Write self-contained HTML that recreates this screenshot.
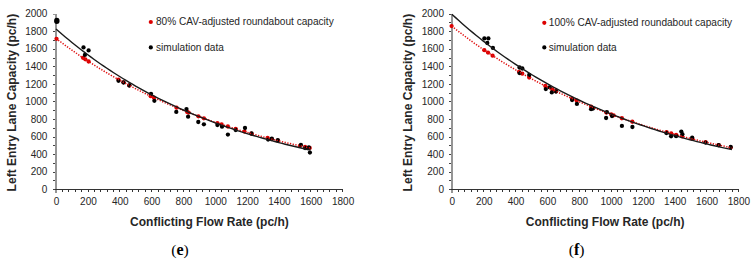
<!DOCTYPE html>
<html><head><meta charset="utf-8"><style>
html,body{margin:0;padding:0;background:#fff;}
svg{display:block;}
text{font-family:"Liberation Sans",sans-serif;}
</style></head><body>
<svg width="754" height="262" viewBox="0 0 754 262">
<rect width="754" height="262" fill="#fff"/>
<text x="0" y="0" transform="translate(16,102.6) rotate(-90)" text-anchor="middle" font-weight="bold" font-size="12.07" fill="#262626">Left Entry Lane Capacity (pc/h)</text>
<text x="47.4" y="192.8" text-anchor="end" font-size="10" fill="#262626">0</text>
<text x="47.4" y="175.25" text-anchor="end" font-size="10" fill="#262626">200</text>
<text x="47.4" y="157.7" text-anchor="end" font-size="10" fill="#262626">400</text>
<text x="47.4" y="140.15" text-anchor="end" font-size="10" fill="#262626">600</text>
<text x="47.4" y="122.6" text-anchor="end" font-size="10" fill="#262626">800</text>
<text x="47.4" y="105.05" text-anchor="end" font-size="10" fill="#262626">1000</text>
<text x="47.4" y="87.5" text-anchor="end" font-size="10" fill="#262626">1200</text>
<text x="47.4" y="69.95" text-anchor="end" font-size="10" fill="#262626">1400</text>
<text x="47.4" y="52.4" text-anchor="end" font-size="10" fill="#262626">1600</text>
<text x="47.4" y="34.85" text-anchor="end" font-size="10" fill="#262626">1800</text>
<text x="47.4" y="17.3" text-anchor="end" font-size="10" fill="#262626">2000</text>
<text x="56.6" y="205" text-anchor="middle" font-size="10" fill="#262626">0</text>
<text x="88.43" y="205" text-anchor="middle" font-size="10" fill="#262626">200</text>
<text x="120.27" y="205" text-anchor="middle" font-size="10" fill="#262626">400</text>
<text x="152.1" y="205" text-anchor="middle" font-size="10" fill="#262626">600</text>
<text x="183.93" y="205" text-anchor="middle" font-size="10" fill="#262626">800</text>
<text x="215.77" y="205" text-anchor="middle" font-size="10" fill="#262626">1000</text>
<text x="247.6" y="205" text-anchor="middle" font-size="10" fill="#262626">1200</text>
<text x="279.43" y="205" text-anchor="middle" font-size="10" fill="#262626">1400</text>
<text x="311.27" y="205" text-anchor="middle" font-size="10" fill="#262626">1600</text>
<text x="343.1" y="205" text-anchor="middle" font-size="10" fill="#262626">1800</text>
<text x="209.4" y="225.7" text-anchor="middle" font-weight="bold" font-size="12" fill="#262626">Conflicting Flow Rate (pc/h)</text>
<g shape-rendering="crispEdges">
<rect x="55.2" y="14" width="1.9" height="178.6" fill="#959595"/>
<rect x="53.2" y="189" width="289.9" height="1.2" fill="#333"/>
<rect x="53.2" y="189.2" width="2" height="1" fill="#444"/>
<rect x="53.2" y="180.42" width="2" height="1" fill="#444"/>
<rect x="53.2" y="171.65" width="2" height="1" fill="#444"/>
<rect x="53.2" y="162.88" width="2" height="1" fill="#444"/>
<rect x="53.2" y="154.1" width="2" height="1" fill="#444"/>
<rect x="53.2" y="145.32" width="2" height="1" fill="#444"/>
<rect x="53.2" y="136.55" width="2" height="1" fill="#444"/>
<rect x="53.2" y="127.77" width="2" height="1" fill="#444"/>
<rect x="53.2" y="119" width="2" height="1" fill="#444"/>
<rect x="53.2" y="110.23" width="2" height="1" fill="#444"/>
<rect x="53.2" y="101.45" width="2" height="1" fill="#444"/>
<rect x="53.2" y="92.68" width="2" height="1" fill="#444"/>
<rect x="53.2" y="83.9" width="2" height="1" fill="#444"/>
<rect x="53.2" y="75.13" width="2" height="1" fill="#444"/>
<rect x="53.2" y="66.35" width="2" height="1" fill="#444"/>
<rect x="53.2" y="57.58" width="2" height="1" fill="#444"/>
<rect x="53.2" y="48.8" width="2" height="1" fill="#444"/>
<rect x="53.2" y="40.03" width="2" height="1" fill="#444"/>
<rect x="53.2" y="31.25" width="2" height="1" fill="#444"/>
<rect x="53.2" y="13.7" width="2" height="1" fill="#9a9a9a"/>
<rect x="62.07" y="189.5" width="1" height="2.5" fill="#333"/>
<rect x="68.43" y="189.5" width="1" height="2.5" fill="#333"/>
<rect x="74.8" y="189.5" width="1" height="2.5" fill="#333"/>
<rect x="81.17" y="189.5" width="1" height="2.5" fill="#333"/>
<rect x="87.53" y="189.5" width="1" height="2.5" fill="#333"/>
<rect x="93.9" y="189.5" width="1" height="2.5" fill="#333"/>
<rect x="100.27" y="189.5" width="1" height="2.5" fill="#333"/>
<rect x="106.63" y="189.5" width="1" height="2.5" fill="#333"/>
<rect x="113" y="189.5" width="1" height="2.5" fill="#333"/>
<rect x="119.37" y="189.5" width="1" height="2.5" fill="#333"/>
<rect x="125.73" y="189.5" width="1" height="2.5" fill="#333"/>
<rect x="132.1" y="189.5" width="1" height="2.5" fill="#333"/>
<rect x="138.47" y="189.5" width="1" height="2.5" fill="#333"/>
<rect x="144.83" y="189.5" width="1" height="2.5" fill="#333"/>
<rect x="151.2" y="189.5" width="1" height="2.5" fill="#333"/>
<rect x="157.57" y="189.5" width="1" height="2.5" fill="#333"/>
<rect x="163.93" y="189.5" width="1" height="2.5" fill="#333"/>
<rect x="170.3" y="189.5" width="1" height="2.5" fill="#333"/>
<rect x="176.67" y="189.5" width="1" height="2.5" fill="#333"/>
<rect x="183.03" y="189.5" width="1" height="2.5" fill="#333"/>
<rect x="189.4" y="189.5" width="1" height="2.5" fill="#333"/>
<rect x="195.77" y="189.5" width="1" height="2.5" fill="#333"/>
<rect x="202.13" y="189.5" width="1" height="2.5" fill="#333"/>
<rect x="208.5" y="189.5" width="1" height="2.5" fill="#333"/>
<rect x="214.87" y="189.5" width="1" height="2.5" fill="#333"/>
<rect x="221.23" y="189.5" width="1" height="2.5" fill="#333"/>
<rect x="227.6" y="189.5" width="1" height="2.5" fill="#333"/>
<rect x="233.97" y="189.5" width="1" height="2.5" fill="#333"/>
<rect x="240.33" y="189.5" width="1" height="2.5" fill="#333"/>
<rect x="246.7" y="189.5" width="1" height="2.5" fill="#333"/>
<rect x="253.07" y="189.5" width="1" height="2.5" fill="#333"/>
<rect x="259.43" y="189.5" width="1" height="2.5" fill="#333"/>
<rect x="265.8" y="189.5" width="1" height="2.5" fill="#333"/>
<rect x="272.17" y="189.5" width="1" height="2.5" fill="#333"/>
<rect x="278.53" y="189.5" width="1" height="2.5" fill="#333"/>
<rect x="284.9" y="189.5" width="1" height="2.5" fill="#333"/>
<rect x="291.27" y="189.5" width="1" height="2.5" fill="#333"/>
<rect x="297.63" y="189.5" width="1" height="2.5" fill="#333"/>
<rect x="304" y="189.5" width="1" height="2.5" fill="#333"/>
<rect x="310.37" y="189.5" width="1" height="2.5" fill="#333"/>
<rect x="316.73" y="189.5" width="1" height="2.5" fill="#333"/>
<rect x="323.1" y="189.5" width="1" height="2.5" fill="#333"/>
<rect x="329.47" y="189.5" width="1" height="2.5" fill="#333"/>
<rect x="335.83" y="189.5" width="1" height="2.5" fill="#333"/>
<rect x="342.2" y="189.5" width="1" height="2.5" fill="#333"/>
</g>
<circle cx="56.5" cy="38.78" r="2.15" fill="#dc0000"/>
<circle cx="83" cy="57.79" r="2.15" fill="#dc0000"/>
<circle cx="85.3" cy="59.33" r="2.15" fill="#dc0000"/>
<circle cx="88.6" cy="61.49" r="2.15" fill="#dc0000"/>
<circle cx="118.5" cy="79.56" r="2.15" fill="#dc0000"/>
<circle cx="123.5" cy="82.32" r="2.15" fill="#dc0000"/>
<circle cx="129.3" cy="85.44" r="2.15" fill="#dc0000"/>
<circle cx="150.7" cy="96.18" r="2.15" fill="#dc0000"/>
<circle cx="153.9" cy="97.69" r="2.15" fill="#dc0000"/>
<circle cx="176.5" cy="107.66" r="2.15" fill="#dc0000"/>
<circle cx="187.2" cy="112" r="2.15" fill="#dc0000"/>
<circle cx="188.6" cy="112.55" r="2.15" fill="#dc0000"/>
<circle cx="198.4" cy="116.29" r="2.15" fill="#dc0000"/>
<circle cx="203.9" cy="118.31" r="2.15" fill="#dc0000"/>
<circle cx="217.4" cy="123.04" r="2.15" fill="#dc0000"/>
<circle cx="221.6" cy="124.44" r="2.15" fill="#dc0000"/>
<circle cx="227.9" cy="126.5" r="2.15" fill="#dc0000"/>
<circle cx="235.7" cy="128.95" r="2.15" fill="#dc0000"/>
<circle cx="244.5" cy="131.6" r="2.15" fill="#dc0000"/>
<circle cx="251.5" cy="133.63" r="2.15" fill="#dc0000"/>
<circle cx="267.6" cy="138.02" r="2.15" fill="#dc0000"/>
<circle cx="271.8" cy="139.11" r="2.15" fill="#dc0000"/>
<circle cx="277.8" cy="140.63" r="2.15" fill="#dc0000"/>
<circle cx="300" cy="145.85" r="2.15" fill="#dc0000"/>
<circle cx="305.1" cy="146.97" r="2.15" fill="#dc0000"/>
<circle cx="309.7" cy="147.95" r="2.15" fill="#dc0000"/>
<ellipse cx="56.8" cy="20.9" rx="2.75" ry="3.05" fill="#000"/>
<circle cx="83.5" cy="47.4" r="2.15" fill="#000"/>
<circle cx="88.6" cy="50.4" r="2.15" fill="#000"/>
<circle cx="84.9" cy="54.9" r="2.15" fill="#000"/>
<circle cx="118.5" cy="80.8" r="2.15" fill="#000"/>
<circle cx="123.5" cy="82.5" r="2.15" fill="#000"/>
<circle cx="129.3" cy="85.5" r="2.15" fill="#000"/>
<circle cx="151" cy="93.8" r="2.15" fill="#000"/>
<circle cx="154.4" cy="100.8" r="2.15" fill="#000"/>
<circle cx="176.3" cy="111.9" r="2.15" fill="#000"/>
<circle cx="186.5" cy="109.1" r="2.15" fill="#000"/>
<circle cx="188.1" cy="116.7" r="2.15" fill="#000"/>
<circle cx="198.3" cy="122" r="2.15" fill="#000"/>
<circle cx="203.9" cy="124.3" r="2.15" fill="#000"/>
<circle cx="217.4" cy="125" r="2.15" fill="#000"/>
<circle cx="222" cy="126.7" r="2.15" fill="#000"/>
<circle cx="227.9" cy="134.6" r="2.15" fill="#000"/>
<circle cx="235.7" cy="130" r="2.15" fill="#000"/>
<circle cx="245" cy="128" r="2.15" fill="#000"/>
<circle cx="251.5" cy="133.5" r="2.15" fill="#000"/>
<circle cx="268.1" cy="139.6" r="2.15" fill="#000"/>
<circle cx="271.8" cy="138.7" r="2.15" fill="#000"/>
<circle cx="277.8" cy="140.1" r="2.15" fill="#000"/>
<circle cx="300.9" cy="145" r="2.15" fill="#000"/>
<circle cx="305.1" cy="148" r="2.15" fill="#000"/>
<circle cx="308.8" cy="147.5" r="2.15" fill="#000"/>
<circle cx="309.9" cy="152.6" r="2.15" fill="#000"/>
<path d="M56,38.39 L59.18,40.82 L62.37,43.21 L65.55,45.56 L68.73,47.88 L71.92,50.15 L75.1,52.39 L78.28,54.59 L81.47,56.76 L84.65,58.89 L87.83,60.99 L91.02,63.06 L94.2,65.09 L97.38,67.09 L100.57,69.06 L103.75,70.99 L106.93,72.9 L110.12,74.77 L113.3,76.61 L116.48,78.43 L119.67,80.21 L122.85,81.97 L126.03,83.7 L129.22,85.4 L132.4,87.07 L135.58,88.72 L138.77,90.34 L141.95,91.93 L145.13,93.5 L148.32,95.04 L151.5,96.56 L154.68,98.05 L157.87,99.52 L161.05,100.97 L164.23,102.39 L167.42,103.79 L170.6,105.17 L173.78,106.52 L176.97,107.86 L180.15,109.17 L183.33,110.46 L186.52,111.73 L189.7,112.98 L192.88,114.21 L196.07,115.42 L199.25,116.61 L202.43,117.78 L205.62,118.93 L208.8,120.07 L211.98,121.18 L215.17,122.28 L218.35,123.36 L221.53,124.42 L224.72,125.47 L227.9,126.5 L231.08,127.51 L234.27,128.51 L237.45,129.49 L240.63,130.45 L243.82,131.4 L247,132.33 L250.18,133.25 L253.37,134.16 L256.55,135.04 L259.73,135.92 L262.92,136.78 L266.1,137.63 L269.28,138.46 L272.47,139.28 L275.65,140.09 L278.83,140.88 L282.02,141.66 L285.2,142.43 L288.38,143.19 L291.57,143.93 L294.75,144.67 L297.93,145.39 L301.12,146.09 L304.3,146.79 L307.48,147.48 L310.67,148.15" fill="none" stroke="#e01010" stroke-width="1.5" stroke-dasharray="1.3 1.45"/>
<path d="M56,28.92 L59.18,31.72 L62.37,34.47 L65.55,37.17 L68.73,39.82 L71.92,42.43 L75.1,44.99 L78.28,47.51 L81.47,49.99 L84.65,52.42 L87.83,54.81 L91.02,57.15 L94.2,59.46 L97.38,61.73 L100.57,63.95 L103.75,66.14 L106.93,68.29 L110.12,70.4 L113.3,72.48 L116.48,74.52 L119.67,76.52 L122.85,78.49 L126.03,80.42 L129.22,82.32 L132.4,84.19 L135.58,86.03 L138.77,87.83 L141.95,89.6 L145.13,91.34 L148.32,93.05 L151.5,94.73 L154.68,96.39 L157.87,98.01 L161.05,99.6 L164.23,101.17 L167.42,102.71 L170.6,104.22 L173.78,105.71 L176.97,107.17 L180.15,108.6 L183.33,110.01 L186.52,111.4 L189.7,112.76 L192.88,114.1 L196.07,115.41 L199.25,116.7 L202.43,117.97 L205.62,119.22 L208.8,120.44 L211.98,121.64 L215.17,122.83 L218.35,123.99 L221.53,125.13 L224.72,126.25 L227.9,127.35 L231.08,128.44 L234.27,129.5 L237.45,130.55 L240.63,131.57 L243.82,132.58 L247,133.58 L250.18,134.55 L253.37,135.51 L256.55,136.45 L259.73,137.37 L262.92,138.28 L266.1,139.17 L269.28,140.05 L272.47,140.91 L275.65,141.76 L278.83,142.59 L282.02,143.41 L285.2,144.21 L288.38,145 L291.57,145.78 L294.75,146.54 L297.93,147.29 L301.12,148.02 L304.3,148.75 L307.48,149.46 L310.67,150.15" fill="none" stroke="#1a1a1a" stroke-width="1.4"/>
<circle cx="150.8" cy="22" r="2.1" fill="#dc0000"/>
<text x="156" y="25.4" font-size="10.1" fill="#262626">80% CAV-adjusted roundabout capacity</text>
<circle cx="150.8" cy="47.4" r="2.1" fill="#000"/>
<text x="156" y="50.8" font-size="10.1" fill="#262626">simulation data</text>
<text x="171.2" y="255.3" style="font-family:Liberation Serif,serif" font-size="16" fill="#000"><tspan font-size="15.6" dy="-0.3">(</tspan><tspan font-weight="bold" dy="0.3">e</tspan><tspan font-size="15.6" dy="-0.3">)</tspan></text>
<text x="0" y="0" transform="translate(411.8,102.6) rotate(-90)" text-anchor="middle" font-weight="bold" font-size="12.07" fill="#262626">Left Entry Lane Capacity (pc/h)</text>
<text x="444" y="192.8" text-anchor="end" font-size="10" fill="#262626">0</text>
<text x="444" y="175.25" text-anchor="end" font-size="10" fill="#262626">200</text>
<text x="444" y="157.7" text-anchor="end" font-size="10" fill="#262626">400</text>
<text x="444" y="140.15" text-anchor="end" font-size="10" fill="#262626">600</text>
<text x="444" y="122.6" text-anchor="end" font-size="10" fill="#262626">800</text>
<text x="444" y="105.05" text-anchor="end" font-size="10" fill="#262626">1000</text>
<text x="444" y="87.5" text-anchor="end" font-size="10" fill="#262626">1200</text>
<text x="444" y="69.95" text-anchor="end" font-size="10" fill="#262626">1400</text>
<text x="444" y="52.4" text-anchor="end" font-size="10" fill="#262626">1600</text>
<text x="444" y="34.85" text-anchor="end" font-size="10" fill="#262626">1800</text>
<text x="444" y="17.3" text-anchor="end" font-size="10" fill="#262626">2000</text>
<text x="452.4" y="205" text-anchor="middle" font-size="10" fill="#262626">0</text>
<text x="484.23" y="205" text-anchor="middle" font-size="10" fill="#262626">200</text>
<text x="516.07" y="205" text-anchor="middle" font-size="10" fill="#262626">400</text>
<text x="547.9" y="205" text-anchor="middle" font-size="10" fill="#262626">600</text>
<text x="579.73" y="205" text-anchor="middle" font-size="10" fill="#262626">800</text>
<text x="611.57" y="205" text-anchor="middle" font-size="10" fill="#262626">1000</text>
<text x="643.4" y="205" text-anchor="middle" font-size="10" fill="#262626">1200</text>
<text x="675.23" y="205" text-anchor="middle" font-size="10" fill="#262626">1400</text>
<text x="707.07" y="205" text-anchor="middle" font-size="10" fill="#262626">1600</text>
<text x="738.9" y="205" text-anchor="middle" font-size="10" fill="#262626">1800</text>
<text x="605.2" y="225.7" text-anchor="middle" font-weight="bold" font-size="12" fill="#262626">Conflicting Flow Rate (pc/h)</text>
<g shape-rendering="crispEdges">
<rect x="451" y="14" width="1.9" height="178.6" fill="#959595"/>
<rect x="449" y="189" width="289.9" height="1.2" fill="#333"/>
<rect x="449" y="189.2" width="2" height="1" fill="#444"/>
<rect x="449" y="180.42" width="2" height="1" fill="#444"/>
<rect x="449" y="171.65" width="2" height="1" fill="#444"/>
<rect x="449" y="162.88" width="2" height="1" fill="#444"/>
<rect x="449" y="154.1" width="2" height="1" fill="#444"/>
<rect x="449" y="145.32" width="2" height="1" fill="#444"/>
<rect x="449" y="136.55" width="2" height="1" fill="#444"/>
<rect x="449" y="127.77" width="2" height="1" fill="#444"/>
<rect x="449" y="119" width="2" height="1" fill="#444"/>
<rect x="449" y="110.23" width="2" height="1" fill="#444"/>
<rect x="449" y="101.45" width="2" height="1" fill="#444"/>
<rect x="449" y="92.68" width="2" height="1" fill="#444"/>
<rect x="449" y="83.9" width="2" height="1" fill="#444"/>
<rect x="449" y="75.13" width="2" height="1" fill="#444"/>
<rect x="449" y="66.35" width="2" height="1" fill="#444"/>
<rect x="449" y="57.58" width="2" height="1" fill="#444"/>
<rect x="449" y="48.8" width="2" height="1" fill="#444"/>
<rect x="449" y="40.03" width="2" height="1" fill="#444"/>
<rect x="449" y="31.25" width="2" height="1" fill="#444"/>
<rect x="449" y="22.48" width="2" height="1" fill="#444"/>
<rect x="449" y="13.7" width="2" height="1" fill="#444"/>
<rect x="457.87" y="189.5" width="1" height="2.5" fill="#333"/>
<rect x="464.23" y="189.5" width="1" height="2.5" fill="#333"/>
<rect x="470.6" y="189.5" width="1" height="2.5" fill="#333"/>
<rect x="476.97" y="189.5" width="1" height="2.5" fill="#333"/>
<rect x="483.33" y="189.5" width="1" height="2.5" fill="#333"/>
<rect x="489.7" y="189.5" width="1" height="2.5" fill="#333"/>
<rect x="496.07" y="189.5" width="1" height="2.5" fill="#333"/>
<rect x="502.43" y="189.5" width="1" height="2.5" fill="#333"/>
<rect x="508.8" y="189.5" width="1" height="2.5" fill="#333"/>
<rect x="515.17" y="189.5" width="1" height="2.5" fill="#333"/>
<rect x="521.53" y="189.5" width="1" height="2.5" fill="#333"/>
<rect x="527.9" y="189.5" width="1" height="2.5" fill="#333"/>
<rect x="534.27" y="189.5" width="1" height="2.5" fill="#333"/>
<rect x="540.63" y="189.5" width="1" height="2.5" fill="#333"/>
<rect x="547" y="189.5" width="1" height="2.5" fill="#333"/>
<rect x="553.37" y="189.5" width="1" height="2.5" fill="#333"/>
<rect x="559.73" y="189.5" width="1" height="2.5" fill="#333"/>
<rect x="566.1" y="189.5" width="1" height="2.5" fill="#333"/>
<rect x="572.47" y="189.5" width="1" height="2.5" fill="#333"/>
<rect x="578.83" y="189.5" width="1" height="2.5" fill="#333"/>
<rect x="585.2" y="189.5" width="1" height="2.5" fill="#333"/>
<rect x="591.57" y="189.5" width="1" height="2.5" fill="#333"/>
<rect x="597.93" y="189.5" width="1" height="2.5" fill="#333"/>
<rect x="604.3" y="189.5" width="1" height="2.5" fill="#333"/>
<rect x="610.67" y="189.5" width="1" height="2.5" fill="#333"/>
<rect x="617.03" y="189.5" width="1" height="2.5" fill="#333"/>
<rect x="623.4" y="189.5" width="1" height="2.5" fill="#333"/>
<rect x="629.77" y="189.5" width="1" height="2.5" fill="#333"/>
<rect x="636.13" y="189.5" width="1" height="2.5" fill="#333"/>
<rect x="642.5" y="189.5" width="1" height="2.5" fill="#333"/>
<rect x="648.87" y="189.5" width="1" height="2.5" fill="#333"/>
<rect x="655.23" y="189.5" width="1" height="2.5" fill="#333"/>
<rect x="661.6" y="189.5" width="1" height="2.5" fill="#333"/>
<rect x="667.97" y="189.5" width="1" height="2.5" fill="#333"/>
<rect x="674.33" y="189.5" width="1" height="2.5" fill="#333"/>
<rect x="680.7" y="189.5" width="1" height="2.5" fill="#333"/>
<rect x="687.07" y="189.5" width="1" height="2.5" fill="#333"/>
<rect x="693.43" y="189.5" width="1" height="2.5" fill="#333"/>
<rect x="699.8" y="189.5" width="1" height="2.5" fill="#333"/>
<rect x="706.17" y="189.5" width="1" height="2.5" fill="#333"/>
<rect x="712.53" y="189.5" width="1" height="2.5" fill="#333"/>
<rect x="718.9" y="189.5" width="1" height="2.5" fill="#333"/>
<rect x="725.27" y="189.5" width="1" height="2.5" fill="#333"/>
<rect x="731.63" y="189.5" width="1" height="2.5" fill="#333"/>
<rect x="738" y="189.5" width="1" height="2.5" fill="#333"/>
</g>
<circle cx="451.6" cy="26.04" r="2.15" fill="#dc0000"/>
<circle cx="484.3" cy="50.13" r="2.15" fill="#dc0000"/>
<circle cx="488" cy="52.62" r="2.15" fill="#dc0000"/>
<circle cx="492.6" cy="55.65" r="2.15" fill="#dc0000"/>
<circle cx="519" cy="71.82" r="2.15" fill="#dc0000"/>
<circle cx="522.3" cy="73.7" r="2.15" fill="#dc0000"/>
<circle cx="529.2" cy="77.53" r="2.15" fill="#dc0000"/>
<circle cx="545.3" cy="85.98" r="2.15" fill="#dc0000"/>
<circle cx="552.3" cy="89.45" r="2.15" fill="#dc0000"/>
<circle cx="556" cy="91.24" r="2.15" fill="#dc0000"/>
<circle cx="572.1" cy="98.66" r="2.15" fill="#dc0000"/>
<circle cx="576.7" cy="100.67" r="2.15" fill="#dc0000"/>
<circle cx="591.1" cy="106.7" r="2.15" fill="#dc0000"/>
<circle cx="606.3" cy="112.61" r="2.15" fill="#dc0000"/>
<circle cx="611.2" cy="114.43" r="2.15" fill="#dc0000"/>
<circle cx="613.6" cy="115.3" r="2.15" fill="#dc0000"/>
<circle cx="621.9" cy="118.24" r="2.15" fill="#dc0000"/>
<circle cx="632.3" cy="121.77" r="2.15" fill="#dc0000"/>
<circle cx="666.6" cy="132.2" r="2.15" fill="#dc0000"/>
<circle cx="671.2" cy="133.47" r="2.15" fill="#dc0000"/>
<circle cx="676.1" cy="134.79" r="2.15" fill="#dc0000"/>
<circle cx="682.2" cy="136.39" r="2.15" fill="#dc0000"/>
<circle cx="692.4" cy="138.97" r="2.15" fill="#dc0000"/>
<circle cx="705.6" cy="142.12" r="2.15" fill="#dc0000"/>
<circle cx="718.7" cy="145.05" r="2.15" fill="#dc0000"/>
<circle cx="730.7" cy="147.58" r="2.15" fill="#dc0000"/>
<circle cx="484.4" cy="38.4" r="2.15" fill="#000"/>
<circle cx="488.4" cy="38.4" r="2.15" fill="#000"/>
<circle cx="487.3" cy="43" r="2.15" fill="#000"/>
<circle cx="492.9" cy="47.9" r="2.15" fill="#000"/>
<circle cx="519.5" cy="67.5" r="2.15" fill="#000"/>
<circle cx="522.3" cy="68.5" r="2.15" fill="#000"/>
<circle cx="519.5" cy="73.1" r="2.15" fill="#000"/>
<circle cx="529.2" cy="75" r="2.15" fill="#000"/>
<circle cx="545.8" cy="89.1" r="2.15" fill="#000"/>
<circle cx="549.5" cy="87.3" r="2.15" fill="#000"/>
<circle cx="551.8" cy="92.4" r="2.15" fill="#000"/>
<circle cx="556" cy="91.5" r="2.15" fill="#000"/>
<circle cx="572.1" cy="100" r="2.15" fill="#000"/>
<circle cx="576.9" cy="103.9" r="2.15" fill="#000"/>
<circle cx="591.1" cy="109.2" r="2.15" fill="#000"/>
<circle cx="593" cy="108.6" r="2.15" fill="#000"/>
<circle cx="606.9" cy="112.2" r="2.15" fill="#000"/>
<circle cx="606.1" cy="118" r="2.15" fill="#000"/>
<circle cx="612" cy="116" r="2.15" fill="#000"/>
<circle cx="621.9" cy="125.9" r="2.15" fill="#000"/>
<circle cx="632.4" cy="127" r="2.15" fill="#000"/>
<circle cx="666.4" cy="133" r="2.15" fill="#000"/>
<circle cx="671.1" cy="136.3" r="2.15" fill="#000"/>
<circle cx="676.1" cy="136.2" r="2.15" fill="#000"/>
<circle cx="681.3" cy="131.6" r="2.15" fill="#000"/>
<circle cx="682.4" cy="134.2" r="2.15" fill="#000"/>
<circle cx="692.2" cy="137.7" r="2.15" fill="#000"/>
<circle cx="705.6" cy="142.6" r="2.15" fill="#000"/>
<circle cx="718.7" cy="145.2" r="2.15" fill="#000"/>
<circle cx="730.7" cy="146.9" r="2.15" fill="#000"/>
<path d="M451.8,26.2 L455.3,28.96 L458.8,31.68 L462.31,34.35 L465.81,36.98 L469.31,39.56 L472.81,42.1 L476.31,44.59 L479.81,47.04 L483.31,49.46 L486.82,51.83 L490.32,54.16 L493.82,56.45 L497.32,58.7 L500.82,60.91 L504.33,63.09 L507.83,65.23 L511.33,67.33 L514.83,69.4 L518.33,71.43 L521.83,73.43 L525.34,75.4 L528.84,77.33 L532.34,79.23 L535.84,81.09 L539.34,82.93 L542.84,84.73 L546.35,86.51 L549.85,88.25 L553.35,89.96 L556.85,91.65 L560.35,93.31 L563.85,94.93 L567.36,96.53 L570.86,98.11 L574.36,99.66 L577.86,101.18 L581.36,102.67 L584.86,104.14 L588.37,105.59 L591.87,107.01 L595.37,108.4 L598.87,109.78 L602.37,111.12 L605.87,112.45 L609.38,113.76 L612.88,115.04 L616.38,116.3 L619.88,117.54 L623.38,118.76 L626.88,119.95 L630.38,121.13 L633.89,122.29 L637.39,123.43 L640.89,124.54 L644.39,125.64 L647.89,126.72 L651.39,127.79 L654.9,128.83 L658.4,129.86 L661.9,130.87 L665.4,131.86 L668.9,132.84 L672.4,133.8 L675.91,134.74 L679.41,135.66 L682.91,136.58 L686.41,137.47 L689.91,138.35 L693.41,139.22 L696.92,140.07 L700.42,140.91 L703.92,141.73 L707.42,142.54 L710.92,143.33 L714.42,144.11 L717.93,144.88 L721.43,145.64 L724.93,146.38 L728.43,147.11 L731.93,147.83" fill="none" stroke="#e01010" stroke-width="1.5" stroke-dasharray="1.3 1.45"/>
<path d="M451.8,14.18 L455.3,17.39 L458.8,20.55 L462.31,23.65 L465.81,26.7 L469.31,29.68 L472.81,32.62 L476.31,35.5 L479.81,38.32 L483.31,41.1 L486.82,43.82 L490.32,46.5 L493.82,49.12 L497.32,51.7 L500.82,54.23 L504.33,56.71 L507.83,59.15 L511.33,61.54 L514.83,63.89 L518.33,66.19 L521.83,68.46 L525.34,70.68 L528.84,72.86 L532.34,75 L535.84,77.1 L539.34,79.16 L542.84,81.19 L546.35,83.18 L549.85,85.13 L553.35,87.04 L556.85,88.92 L560.35,90.77 L563.85,92.58 L567.36,94.36 L570.86,96.11 L574.36,97.82 L577.86,99.5 L581.36,101.15 L584.86,102.78 L588.37,104.37 L591.87,105.93 L595.37,107.46 L598.87,108.97 L602.37,110.45 L605.87,111.9 L609.38,113.32 L612.88,114.72 L616.38,116.09 L619.88,117.44 L623.38,118.76 L626.88,120.06 L630.38,121.34 L633.89,122.59 L637.39,123.82 L640.89,125.02 L644.39,126.2 L647.89,127.37 L651.39,128.51 L654.9,129.63 L658.4,130.72 L661.9,131.8 L665.4,132.86 L668.9,133.9 L672.4,134.92 L675.91,135.92 L679.41,136.91 L682.91,137.87 L686.41,138.82 L689.91,139.75 L693.41,140.66 L696.92,141.56 L700.42,142.44 L703.92,143.3 L707.42,144.15 L710.92,144.98 L714.42,145.8 L717.93,146.6 L721.43,147.39 L724.93,148.16 L728.43,148.92 L731.93,149.67" fill="none" stroke="#1a1a1a" stroke-width="1.4"/>
<circle cx="544.3" cy="22.8" r="2.1" fill="#dc0000"/>
<text x="548.8" y="26.2" font-size="10.1" fill="#262626">100% CAV-adjusted roundabout capacity</text>
<circle cx="544.3" cy="47.4" r="2.1" fill="#000"/>
<text x="548.8" y="50.8" font-size="10.1" fill="#262626">simulation data</text>
<text x="568.8" y="255.3" style="font-family:Liberation Serif,serif" font-size="16" fill="#000"><tspan font-size="15.6" dy="-0.3">(</tspan><tspan font-weight="bold" dy="0.3">f</tspan><tspan font-size="15.6" dy="-0.3">)</tspan></text>
</svg>
</body></html>
